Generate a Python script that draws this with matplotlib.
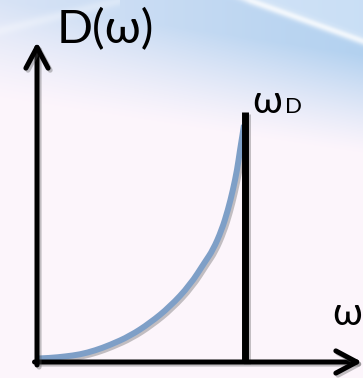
import numpy as np
import matplotlib.pyplot as plt
import matplotlib.patheffects as pe
from matplotlib.path import Path
from matplotlib.patches import PathPatch

W, H = 363, 378

omega = [0.005, 0.063, 0.135, 0.207, 0.279, 0.351, 0.447, 0.543, 0.639, 0.736,
         0.808, 0.846, 0.888, 0.918, 0.942, 0.962, 0.976, 0.988, 0.995]
dos = [0.014, 0.016, 0.022, 0.030, 0.046, 0.068, 0.104, 0.156, 0.221, 0.308,
       0.401, 0.448, 0.528, 0.608, 0.688, 0.768, 0.848, 0.908, 0.948]
omega_D = 1.0
cutoff_top = 1.0
axis_x_end = 1.5625
axis_y_end = 1.28

labels = {'y': 'D(ω)', 'x': 'ω', 'cut': 'ω', 'cut_sub': 'D'}


def background():
    yy, xx = np.mgrid[0:H, 0:W].astype(float)
    base = np.array([0.992, 0.962, 0.988])
    blue = np.array([0.70, 0.82, 0.94])
    b = np.clip((100 - yy + 0.15 * xx) / 100, 0, 1) ** 1.2
    b *= 0.5 + 0.5 * xx / W
    img = base * (1 - b[..., None]) + blue * b[..., None]
    # bright diagonal swoosh in the top-right corner
    d = (yy - (xx - 250) * 0.36) / np.hypot(1, 0.36)
    above = np.clip(-d / 6, 0, 1)[..., None]
    img = img * (1 - 0.45 * above) + np.array([0.90, 0.94, 0.99]) * 0.45 * above
    glow = np.exp(-(d / 4) ** 2)[..., None] * np.clip((xx - 220) / 30, 0, 1)[..., None]
    img = img * (1 - 0.8 * glow) + 0.8 * glow
    # faint streak in the top-left
    d2 = (yy - 30 + xx * 0.25) / 1.03
    glow2 = 0.3 * np.exp(-(d2 / 5) ** 2)[..., None] * (xx < 120)[..., None]
    img = img * (1 - glow2) + glow2
    return np.clip(img, 0, 1)


def smooth_path(xs, ys):
    # quadratic segments through the midpoints, using the samples as control points
    pts = list(zip(xs, ys))
    verts = [pts[0]]
    codes = [Path.MOVETO]
    for i in range(1, len(pts) - 1):
        mid = ((pts[i][0] + pts[i + 1][0]) / 2, (pts[i][1] + pts[i + 1][1]) / 2)
        if i == len(pts) - 2:
            mid = pts[-1]
        verts += [pts[i], mid]
        codes += [Path.CURVE3, Path.CURVE3]
    return Path(verts, codes)


fig = plt.figure(figsize=(W / 100, H / 100), dpi=100)
bg = fig.add_axes([0, 0, 1, 1])
bg.imshow(background(), aspect='auto', interpolation='bilinear')
bg.axis('off')

ax = fig.add_axes([0, 0, 1, 1])
ax.set_facecolor('none')
ax.set_xlim(-37 / 208, (W - 37) / 208)
ax.set_ylim((362 - H) / 250, 362 / 250)
ax.axis('off')

shadow = [pe.SimpleLineShadow(offset=(1.5, -1.5), shadow_color='#555555', alpha=0.35), pe.Normal()]

curve = PathPatch(smooth_path(omega, dos), facecolor='none', edgecolor='#7e9fc7',
                  lw=4.3, capstyle='butt', joinstyle='round', path_effects=shadow, zorder=2)
ax.add_patch(curve)

ax.plot([omega_D, omega_D], [0, cutoff_top], color='black', lw=5,
        solid_capstyle='butt', path_effects=shadow, zorder=3)

arrow = dict(arrowstyle='->,head_length=1.5,head_width=0.8', lw=3.6, color='black',
             shrinkA=0, shrinkB=0, path_effects=shadow)
ax.annotate('', xy=(axis_x_end, 0), xytext=(-0.012, 0), arrowprops=arrow, zorder=4)
ax.annotate('', xy=(0, axis_y_end), xytext=(0, -0.012), arrowprops=arrow, zorder=4)

fonts = ['Lato', 'DejaVu Sans']
ax.text(0.095, 1.276, labels['y'], fontsize=34, family=fonts, va='baseline', ha='left')
ax.text(1.42, 0.148, labels['x'], fontsize=28, family=fonts, va='baseline', ha='left')
ax.text(1.035, 0.996, labels['cut'], fontsize=28, family=fonts, va='baseline', ha='left')
ax.text(1.19, 0.996, labels['cut_sub'], fontsize=16, family=fonts, va='baseline', ha='left')

fig.savefig('out.png', dpi=100)
